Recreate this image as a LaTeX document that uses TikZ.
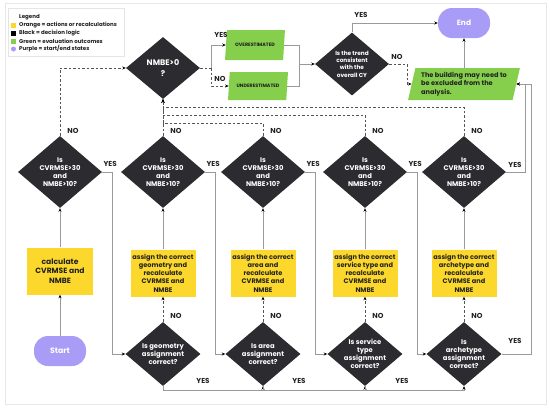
\documentclass[tikz,border=0pt]{standalone}
\usepackage{fontspec}
\setmainfont{Poppins}
\usetikzlibrary{shapes.geometric,arrows.meta,calc}
\definecolor{cyel}{HTML}{FCD82C}
\definecolor{cgrn}{HTML}{86CF4C}
\definecolor{cpur}{HTML}{A99CF6}
\definecolor{cdark}{HTML}{2C2C30}
\definecolor{cline}{HTML}{9A9A9A}
\definecolor{cdash}{HTML}{555555}
\definecolor{ctext}{HTML}{222222}
\begin{document}
\begin{tikzpicture}[x=1pt,y=-1pt,
  dia/.style={diamond, fill=cdark, inner sep=0pt, minimum width=84pt, minimum height=72pt, shape aspect=1.17},
  sdia/.style={dia, minimum width=75pt, minimum height=64pt},
  dtxt/.style={text=white, font=\bfseries\fontsize{6.8}{8}\selectfont, align=center, inner sep=0pt},
  ybox/.style={rectangle, fill=cyel, minimum width=65pt, minimum height=47pt, inner sep=1pt, align=center, text=ctext, font=\bfseries\fontsize{6.6}{8.3}\selectfont},
  para/.style={trapezium, trapezium left angle=76, trapezium right angle=104, trapezium stretches=true, fill=cgrn, inner sep=1pt, text=ctext},
  term/.style={rectangle, rounded corners=14pt, fill=cpur, minimum width=52pt, minimum height=30pt, text=white, font=\bfseries\fontsize{7.5}{9}\selectfont},
  lbl/.style={font=\bfseries\fontsize{7.2}{8}\selectfont, text=ctext, inner sep=0pt},
  sline/.style={draw=cline, line width=0.8pt},
  dline/.style={draw=cdash, line width=0.8pt, dash pattern=on 2.5pt off 2pt},
  arr/.style={-{Stealth[length=3.5pt,width=3pt,color=black]}},
  legtxt/.style={anchor=west, inner sep=0pt, text=ctext, font=\bfseries\fontsize{5.5}{6}\selectfont},
  legsq/.style={rectangle, inner sep=0pt, minimum size=5pt}
]
\useasboundingbox (0,0) rectangle (550,408);
\draw[draw=gray!18, line width=1pt] (5,3) rectangle (546,404);

% legend
\node[draw=gray!20, fill=white, line width=0.6pt, minimum width=116pt, minimum height=48pt, inner sep=0pt] (leg) at (66,32) {};
\node[legtxt] (legt) at (19,17) {Legend};
\node[legsq, fill=cyel] (lsq1) at (13.5,25) {};
\node[legtxt] (legt1) at (19,25) {Orange = actions or recalculations};
\node[legsq, fill=black] (lsq2) at (13.5,33) {};
\node[legtxt] (legt2) at (19,33) {Black = decision logic};
\node[legsq, fill=cgrn] (lsq3) at (13.5,41) {};
\node[legtxt] (legt3) at (19,41) {Green = evaluation outcomes};
\node[legsq, circle, fill=cpur] (lsq4) at (13.5,49) {};
\node[legtxt] (legt4) at (19,49) {Purple = start/end states};

% top part
\node[dia, minimum width=74pt, minimum height=62pt, label={[dtxt, font=\bfseries\fontsize{8}{11}\selectfont]center:{NMBE>0\\?}}] (nmbe) at (163,68) {};
\node[para, minimum width=60pt, minimum height=30pt, font=\bfseries\fontsize{4.8}{5}\selectfont] (over) at (255,45) {OVERESTIMATED};
\node[para, minimum width=60pt, minimum height=28pt, font=\bfseries\fontsize{4.8}{5}\selectfont] (under) at (258,86) {UNDERESTIMATED};
\node[dia, minimum width=74pt, minimum height=63pt, label={[dtxt, font=\bfseries\fontsize{5.8}{7.4}\selectfont]center:{Is the trend\\consistent\\with the\\overall CY}}] (trend) at (352,64) {};
\node[term] (end) at (464,23) {End};
\node[para, minimum width=112pt, minimum height=32pt, align=left, font=\bfseries\fontsize{6.6}{8.7}\selectfont] (excl) at (464,84) {The building may need to\\be excluded from the\\analysis.};

% CVRMSE row
\foreach \n/\x in {d1/60,d2/163,d3/263,d4/365,d5/464}{
  \node[dia, label={[dtxt]center:{Is\\CVRMSE>30\\and\\NMBE>10?}}] (\n) at (\x,172) {};
}
% yellow boxes
\node[ybox, font=\bfseries\fontsize{7.6}{9.3}\selectfont, minimum width=66pt] (calc) at (60,271) {calculate\\CVRMSE and\\NMBE};
\node[ybox] (a1) at (163,273) {assign the correct\\geometry and\\recalculate\\CVRMSE and\\NMBE};
\node[ybox] (a2) at (263,273) {assign the correct\\area and\\recalculate\\CVRMSE and\\NMBE};
\node[ybox] (a3) at (365,273) {assign the correct\\service type and\\recalculate\\CVRMSE and\\NMBE};
\node[ybox] (a4) at (464,273) {assign the correct\\archetype and\\recalculate\\CVRMSE and\\NMBE};
\node[term, font=\bfseries\fontsize{7.8}{9}\selectfont] (start) at (60,351) {Start};
% bottom diamonds
\node[sdia, label={[dtxt]center:{Is geometry\\assignment\\correct?}}] (b1) at (163,354) {};
\node[sdia, label={[dtxt]center:{Is area\\assignment\\correct?}}] (b2) at (263,354) {};
\node[sdia, label={[dtxt]center:{Is service\\type\\assignment\\correct?}}] (b3) at (365,354) {};
\node[sdia, label={[dtxt]center:{Is\\archetype\\assignment\\correct?}}] (b4) at (464,354) {};

% connectors top
\coordinate (nj) at (211,68);
\draw[dline] (nmbe.east) -- (nj);
\draw[sline, arr] (nj) |- (over.west);
\draw[dline, arr] (nj) |- (under.west);
\node[lbl] (ly0) at (221,35) {YES};
\node[lbl] (ln0) at (220,79) {NO};
\coordinate (tj) at (299,64);
\draw[sline] (over.east) -| (tj);
\draw[sline] (under.east) -| (tj);
\draw[sline, arr] (tj) -- (trend.west);
\draw[sline, arr] (trend.north) |- (end.west);
\node[lbl] (lyt) at (361,15) {YES};
\coordinate (nj2) at (407,64);
\draw[dline, arr] (trend.east) -- (nj2) |- (excl.west);
\node[lbl] (lnt) at (397,57) {NO};
\draw[sline, arr] (excl.north -| end.south) -- (end.south);

% NO loops back to NMBE
\draw[dline, arr] (d1.north) |- (nmbe.west);
\draw[dline, arr] (d2.north) -- (nmbe.south);
\draw[dline, arr] (d3.north) |- (163,123) -- (nmbe.south);
\draw[dline, arr] (d4.north) |- (163,115) -- (nmbe.south);
\draw[dline, arr] (d5.north) |- (163,107) -- (nmbe.south);
\foreach \n in {d1,d2,d3,d4,d5}{
  \node[lbl] (\n no) at ($(\n.north)+(13,-5)$) {NO};
}

% vertical flow
\draw[sline, arr] (start.north) -- (calc.south);
\draw[sline, arr] (calc.north) -- (d1.south);
\foreach \a/\d in {a1/d2,a2/d3,a3/d4,a4/d5}{
  \draw[sline, arr] (\a.north) -- (\d.south);
}
\foreach \b/\a in {b1/a1,b2/a2,b3/a3,b4/a4}{
  \draw[dline, arr] (\b.north) -- (\a.south);
  \node[lbl] (\b no) at ($(\b.north)+(13,-6)$) {NO};
}

% YES to checks
\foreach \d/\b in {d1/b1,d2/b2,d3/b3,d4/b4}{
  \draw[sline, arr] (\d.east) -- ++(10,0) |- (\b.west);
  \node[lbl] (\d yes) at ($(\d.east)+(8,-8)$) {YES};
}
% bottom YES chain
\draw[sline, arr] (b1.south) -- ++(0,4) -| (b2.south);
\draw[sline, arr] (b2.south) -- ++(0,4) -| (b3.south);
\draw[sline, arr] (b3.south) -- ++(0,4) -| (b4.south);
\node[lbl] (by1) at (203,381) {YES};
\node[lbl] (by2) at (299,381) {YES};
\node[lbl] (by3) at (402,381) {YES};
% right side
\draw[sline, arr] (d5.east) -- ++(19,0) |- (excl.east);
\node[lbl] (d5 yes) at (515,165) {YES};
\draw[sline, arr] (b4.east) -- ++(30,0) |- (excl.east);
\node[lbl] (b4 yes) at (515,341) {YES};
\end{tikzpicture}
\end{document}
